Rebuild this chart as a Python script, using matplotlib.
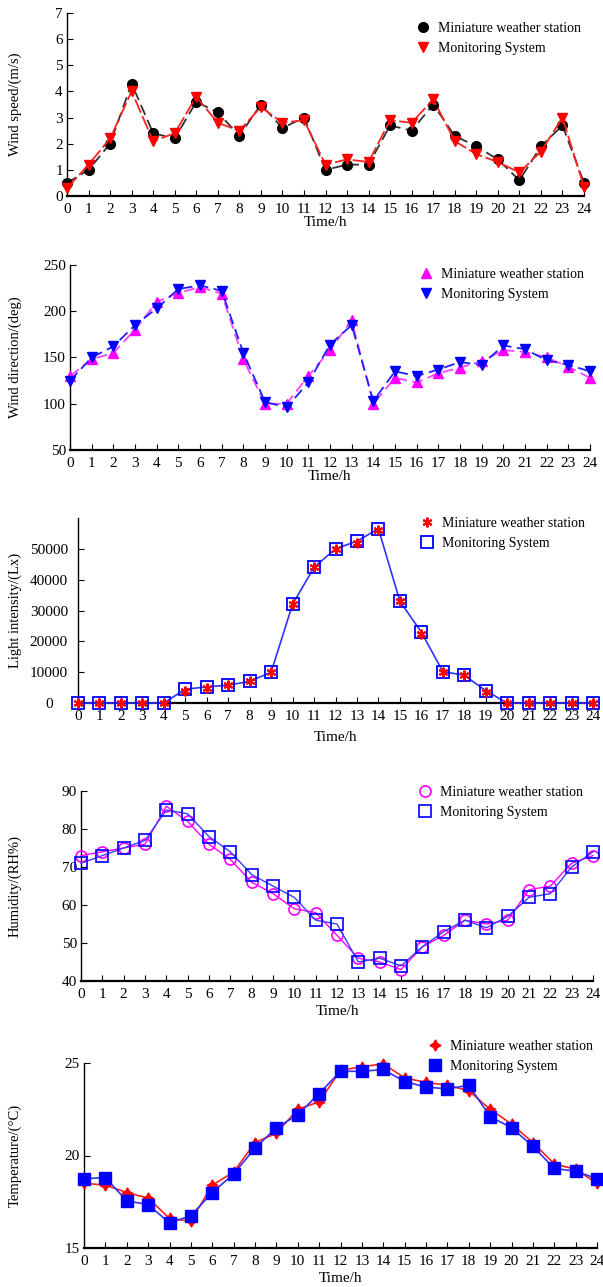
import matplotlib
matplotlib.use('Agg')
import matplotlib.pyplot as plt

plt.rcParams['font.family'] = ['Liberation Serif', 'DejaVu Serif']

# Dados
horas = list(range(25))
rotulos = ['Miniature weather station', 'Monitoring System']

vento_mini = [0.5, 1.0, 2.0, 4.3, 2.4, 2.2, 3.6, 3.2, 2.3, 3.5, 2.6, 3.0, 1.0,
              1.2, 1.2, 2.7, 2.5, 3.5, 2.3, 1.9, 1.4, 0.6, 1.9, 2.7, 0.5]
vento_mon = [0.3, 1.2, 2.2, 4.0, 2.1, 2.4, 3.8, 2.8, 2.5, 3.4, 2.8, 2.9, 1.2,
             1.4, 1.3, 2.9, 2.8, 3.7, 2.1, 1.6, 1.3, 0.9, 1.7, 3.0, 0.35]

direcao_mini = [130, 148, 155, 180, 210, 220, 226, 219, 148, 100, 100, 130, 158,
                190, 100, 128, 123, 133, 139, 146, 158, 156, 150, 140, 128]
direcao_mon = [125, 150, 162, 185, 203, 224, 228, 222, 155, 102, 96, 123, 164,
               185, 103, 135, 130, 137, 145, 142, 163, 159, 147, 142, 135]

luz_mini = [0, 0, 0, 0, 0, 4000, 5000, 6000, 7000, 10000, 32000, 44000, 50000,
            52000, 56000, 33000, 22500, 10000, 9000, 3500, 0, 0, 0, 0, 0]
luz_mon = [0, 0, 0, 0, 0, 4500, 5200, 5800, 7000, 10000, 32000, 44000, 50000,
           52500, 56500, 33000, 23000, 10200, 9000, 4000, 0, 0, 0, 0, 0]

umid_mini = [73, 74, 75, 76, 86, 82, 76, 72, 66, 63, 59, 58, 52,
             46, 45, 43, 49, 52, 56, 55, 56, 64, 65, 71, 73]
umid_mon = [71, 73, 75, 77, 85, 84, 78, 74, 68, 65, 62, 56, 55,
            45, 46, 44, 49, 53, 56, 54, 57, 62, 63, 70, 74]

temp_mini = [18.5, 18.4, 18.0, 17.7, 16.6, 16.45, 18.4, 19.1, 20.7, 21.2, 22.5, 22.9, 24.6,
             24.8, 24.95, 24.2, 23.95, 23.8, 23.5, 22.5, 21.7, 20.7, 19.55, 19.25, 18.5]
temp_mon = [18.75, 18.8, 17.55, 17.35, 16.35, 16.75, 18.0, 19.0, 20.4, 21.5, 22.2, 23.35, 24.55,
            24.55, 24.65, 24.0, 23.7, 23.6, 23.8, 22.1, 21.5, 20.5, 19.3, 19.15, 18.75]

W, H = 603, 1287
fig = plt.figure(figsize=(W / 100, H / 100), dpi=100)


def eixo(x0, x1, ytop, ybot):
    return fig.add_axes([x0 / W, 1 - ybot / H, (x1 - x0) / W, (ybot - ytop) / H])


def estilo(ax, ylabel, x0, x1, xpad=0):
    ax.spines['top'].set_visible(False)
    ax.spines['right'].set_visible(False)
    ax.spines['left'].set_linewidth(1.0)
    ax.spines['bottom'].set_linewidth(1.6)
    ax.set_xlim(0, 24)
    ax.set_xticks(horas)
    ax.tick_params(axis='both', direction='in', length=4, labelsize=11, pad=3)
    ax.tick_params(axis='x', pad=5)
    ax.set_xlabel('Time/h', fontsize=11, labelpad=xpad)
    ax.set_ylabel(ylabel, fontsize=10.5)
    ax.yaxis.set_label_coords((22 - x0) / (x1 - x0), 0.5)


def legenda(ax, x, y, ordem=(0, 1)):
    h, l = ax.get_legend_handles_labels()
    leg = ax.legend([h[i] for i in ordem], [l[i] for i in ordem], loc='upper left',
                    bbox_to_anchor=(x / W, 1 - y / H), bbox_transform=fig.transFigure,
                    frameon=False, fontsize=10, handlelength=1.0, handletextpad=0.6,
                    labelspacing=0.5, borderaxespad=0, borderpad=0, numpoints=1)
    for lh in leg.legend_handles:
        lh.set_linestyle('none')


# Gráfico 1: velocidade do vento
ax1 = eixo(67, 584, 13, 196)
ax1.plot(horas, vento_mini, color='#333333', ls=(0, (6, 3)), lw=1.3, marker='o', ms=7,
         mfc='black', mec='black', label=rotulos[0], clip_on=False, zorder=3)
ax1.plot(horas, vento_mon, color='#ff2020', ls=(0, (8, 2)), lw=1.3, marker='v', ms=7,
         mfc='#ff0000', mec='#ff0000', label=rotulos[1], clip_on=False, zorder=4)
ax1.set_ylim(0, 7)
ax1.set_yticks(range(8))
estilo(ax1, 'Wind speed/(m/s)', 67, 584)
legenda(ax1, 416, 22)

# Gráfico 2: direção do vento
ax2 = eixo(70, 590, 265, 450)
ax2.plot(horas, direcao_mini, color='#ff40ff', ls=(0, (6, 3)), lw=1.3, marker='^', ms=7,
         mfc='#ff00ff', mec='#ff00ff', label=rotulos[0], clip_on=False, zorder=3)
ax2.plot(horas, direcao_mon, color='#2020ff', ls=(0, (6, 3)), lw=1.3, marker='v', ms=7,
         mfc='#0000ff', mec='#0000ff', label=rotulos[1], clip_on=False, zorder=4)
ax2.set_ylim(50, 250)
ax2.set_yticks([50, 100, 150, 200, 250])
estilo(ax2, 'Wind direction/(deg)', 70, 590)
legenda(ax2, 419, 268)

# Gráfico 3: intensidade luminosa
ax3 = eixo(78, 593, 518, 703)
ax3.plot(horas, luz_mon, color='#3030ff', ls='-', lw=1.2, marker='s', ms=8,
         mfc='none', mec='#0000ff', mew=1.3, label=rotulos[1], clip_on=False, zorder=3)
ax3.plot(horas, luz_mini, color='#ff0000', ls='none', marker=(6, 2, 0), ms=7,
         mec='#ff0000', mew=1.5, label=rotulos[0], clip_on=False, zorder=4)
ax3.set_ylim(0, 60000)
ax3.set_yticks([0, 10000, 20000, 30000, 40000, 50000])
estilo(ax3, 'Light intensity/(Lx)', 78, 593, xpad=6)
ax3.tick_params(axis='y', pad=21)
for rot in ax3.get_yticklabels():
    rot.set_horizontalalignment('center')
legenda(ax3, 420, 517, ordem=(1, 0))

# Gráfico 4: umidade
ax4 = eixo(81, 593, 791, 981)
ax4.plot(horas, umid_mini, color='#ff00ff', ls='-', lw=1.0, marker='o', ms=8,
         mfc='none', mec='#ff00ff', mew=1.2, label=rotulos[0], clip_on=False, zorder=3)
ax4.plot(horas, umid_mon, color='#3c3cff', ls='-', lw=1.0, marker='s', ms=8,
         mfc='none', mec='#0000ff', mew=1.2, label=rotulos[1], clip_on=False, zorder=4)
ax4.set_ylim(40, 90)
ax4.set_yticks([40, 50, 60, 70, 80, 90])
estilo(ax4, 'Humidity/(RH%)', 81, 593, xpad=3)
legenda(ax4, 418, 786)

# Gráfico 5: temperatura
ax5 = eixo(84, 597, 1063, 1248)
ax5.plot(horas, temp_mini, color='#ff2020', ls='-', lw=1.2, marker=(4, 1, 0), ms=8,
         mfc='#ff0000', mec='#ff0000', label=rotulos[0], clip_on=False, zorder=3)
ax5.plot(horas, temp_mon, color='#3030ff', ls='-', lw=1.2, marker='s', ms=8,
         mfc='#0000ff', mec='#0000ff', label=rotulos[1], clip_on=False, zorder=4)
ax5.set_ylim(15, 25)
ax5.set_yticks([15, 20, 25])
estilo(ax5, 'Temperature/(°C)', 84, 597, xpad=3)
legenda(ax5, 428, 1040)

fig.savefig('out.png', dpi=100)
